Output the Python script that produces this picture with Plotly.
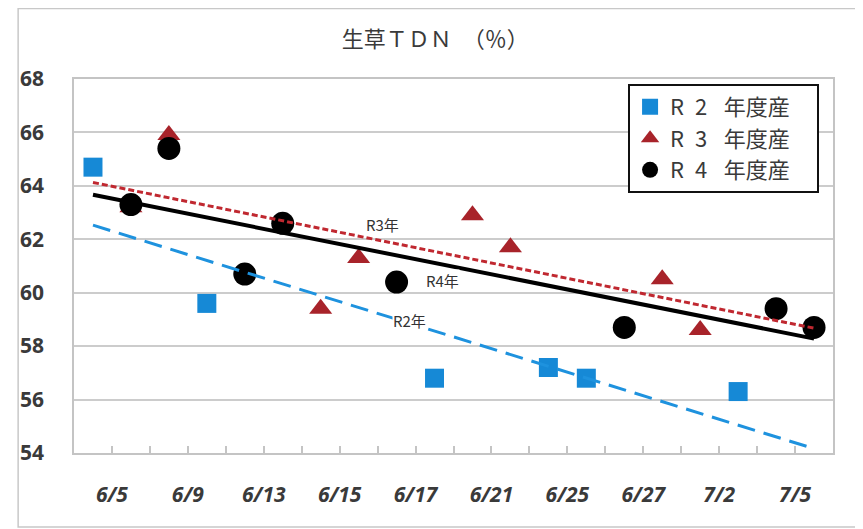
import numpy as np
import plotly.graph_objects as go

# ---- data ----
tick_labels = ["6/5", "6/9", "6/13", "6/15", "6/17", "6/21", "6/25", "6/27", "7/2", "7/5"]
n_slots = 20

r2_slots = [0, 3, 9, 12, 13, 17]
r2_vals = [64.7, 59.6, 56.8, 57.2, 56.8, 56.3]

r3_slots = [1, 2, 6, 7, 10, 11, 15, 16]
r3_vals = [63.2, 65.9, 59.4, 61.3, 62.9, 61.7, 60.5, 58.6]

r4_slots = [1, 2, 4, 5, 8, 14, 18, 19]
r4_vals = [63.3, 65.4, 60.7, 62.6, 60.4, 58.7, 59.4, 58.7]

series_names = ["R\u20022\u2002\u2005年度産\u2003", "R\u20023\u2002\u2005年度産\u2003", "R\u20024\u2002\u2005年度産\u2003"]
trend_labels = ["R2年", "R3年", "R4年"]

JP = "Noto Sans CJK JP"
TXT = "#3a3a3a"

fig = go.Figure()

# markers
fig.add_trace(go.Scatter(x=r2_slots, y=r2_vals, mode="markers", name=series_names[0],
                         marker=dict(symbol="square", size=19, color="#1689D6"),
                         legendgroup="a"))
fig.add_trace(go.Scatter(x=r3_slots, y=r3_vals, mode="markers", name=series_names[1],
                         marker=dict(symbol="triangle-up", size=20, color="#A8232A"),
                         legendgroup="b"))
fig.add_trace(go.Scatter(x=r4_slots, y=r4_vals, mode="markers", name=series_names[2],
                         marker=dict(symbol="circle", size=23, color="#000000"),
                         legendgroup="c"))

# linear trendlines over the full category range
xs = np.array([0, n_slots - 1])
for slots, vals, col, dash, w in [
    (r2_slots, r2_vals, "#1E92DE", "18px,9px", 3),
    (r3_slots, r3_vals, "#C02830", "6px,3px", 3),
    (r4_slots, r4_vals, "#000000", "solid", 4),
]:
    k, b = np.polyfit(slots, vals, 1)
    fig.add_trace(go.Scatter(x=xs, y=k * xs + b, mode="lines", showlegend=False,
                             line=dict(color=col, dash=dash, width=w), hoverinfo="skip"))

# trendline labels
for txt, ax, ay in [(trend_labels[1], 7.63, 62.55), (trend_labels[2], 9.2, 60.45), (trend_labels[0], 8.35, 58.95)]:
    fig.add_annotation(x=ax, y=ay, text=txt, showarrow=False,
                       font=dict(family=JP, size=15, color="#333333"),
                       bgcolor="white", borderpad=0)

tickvals = [-0.5 + k for k in range(n_slots + 1)]
ticktext = []
li = 0
for k in range(n_slots + 1):
    if k % 2 == 1 and li < len(tick_labels):
        ticktext.append(tick_labels[li]); li += 1
    else:
        ticktext.append("")

fig.update_xaxes(range=[-0.5, n_slots - 0.5], tickmode="array", tickvals=tickvals, ticktext=ticktext,
                 showgrid=False, zeroline=False, showline=True, mirror=True,
                 linecolor="#c4c4c4", linewidth=1.5,
                 ticks="inside", ticklen=7, tickcolor="#c4c4c4", tickwidth=1.5,
                 ticklabelstandoff=22,
                 tickfont=dict(family="Open Sans", size=21, color=TXT, style="italic", weight="bold"))
fig.update_yaxes(range=[54, 68], dtick=2, tick0=54, showgrid=True, gridcolor="#cccccc", gridwidth=1.5,
                 zeroline=False, showline=True, mirror=True, linecolor="#c4c4c4", linewidth=1.5,
                 ticks="", ticklabelstandoff=24,
                 tickfont=dict(family="Open Sans", size=21, color=TXT, weight="bold"))

# outer chart border
fig.add_shape(type="rect", xref="paper", yref="paper",
              x0=-0.0736, x1=1.035, y0=-0.198, y1=1.1885,
              line=dict(color="#c8c8c8", width=1.5), fillcolor="rgba(0,0,0,0)")

fig.update_layout(
    width=863, height=529,
    margin=dict(l=57, r=38, t=71, b=84),
    paper_bgcolor="white", plot_bgcolor="white",
    title=dict(text="生草ＴＤＮ　（％）", x=0.495, xanchor="center", y=0.94, yanchor="middle",
               font=dict(family=JP, size=22, color=TXT)),
    legend=dict(x=0.730, y=0.987, xanchor="left", yanchor="top",
                bordercolor="#111111", borderwidth=2, bgcolor="white",
                font=dict(family=JP, size=22, color=TXT),
                traceorder="grouped", tracegroupgap=0,
                itemwidth=30),
    showlegend=True,
)

fig.write_html("out.html")
